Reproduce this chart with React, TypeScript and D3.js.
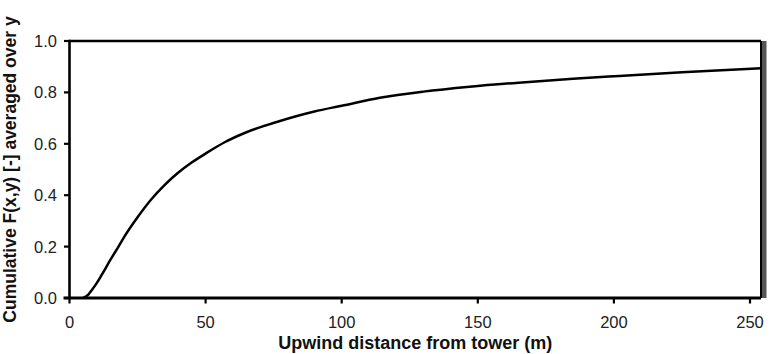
import React, { useEffect, useRef } from "react";
import * as d3 from "d3";

// Upwind distance from the tower (m) and cumulative footprint F(x,y) averaged over y
const distance = [5, 7, 8, 10, 12, 15, 18, 20, 25, 30, 35, 40, 45, 50, 57, 65, 77, 90, 100, 114, 130, 147, 165, 185, 202, 225, 254];
const cumulative = [0, 0.014, 0.028, 0.058, 0.093, 0.148, 0.2, 0.236, 0.314, 0.383, 0.44, 0.488, 0.528, 0.562, 0.606, 0.645, 0.688, 0.726, 0.748, 0.779, 0.803, 0.822, 0.838, 0.853, 0.864, 0.878, 0.894];

const xTicks = [0, 50, 100, 150, 200, 250];
const yTicks = [0, 0.2, 0.4, 0.6, 0.8, 1.0];

const xTitle = "Upwind distance from tower (m)";
const yTitle = "Cumulative F(x,y) [-] averaged over y";

const W = 770;
const H = 354;
const margin = { left: 69.5, right: 9, top: 41, bottom: 56 };

export default function App() {
  const ref = useRef<SVGSVGElement>(null);

  useEffect(() => {
    const svg = d3.select(ref.current);
    svg.selectAll("*").remove();

    const x0 = margin.left;
    const x1 = W - margin.right;
    const y0 = H - margin.bottom;
    const y1 = margin.top;

    const x = d3.scaleLinear().domain([0, 250]).range([x0, 750]);
    const y = d3.scaleLinear().domain([0, 1]).range([y0, y1]);

    const font = "'Liberation Sans', Arial, sans-serif";

    // shaded edge on the right side of the frame
    svg.append("rect")
      .attr("x", x1 + 1)
      .attr("y", y1)
      .attr("width", 4.5)
      .attr("height", y0 - y1)
      .attr("fill", "#555");

    // frame
    svg.append("line").attr("x1", x0).attr("x2", x1).attr("y1", y1).attr("y2", y1)
      .attr("stroke", "#000").attr("stroke-width", 2.5);
    svg.append("line").attr("x1", x1).attr("x2", x1).attr("y1", y1).attr("y2", y0)
      .attr("stroke", "#000").attr("stroke-width", 2);

    // curve
    const line = d3.line<number>()
      .x((_, i) => x(distance[i]))
      .y((d) => y(d))
      .curve(d3.curveMonotoneX);
    svg.append("path")
      .datum(cumulative)
      .attr("d", line)
      .attr("fill", "none")
      .attr("stroke", "#000")
      .attr("stroke-width", 2.5);

    // y axis
    svg.append("line").attr("x1", x0).attr("x2", x0).attr("y1", y1 - 1.2).attr("y2", y0 + 1)
      .attr("stroke", "#000").attr("stroke-width", 2.6);
    yTicks.forEach((t) => {
      svg.append("line").attr("x1", x0 - 5.5).attr("x2", x0).attr("y1", y(t)).attr("y2", y(t))
        .attr("stroke", "#000").attr("stroke-width", 2.2);
      svg.append("text")
        .attr("x", 57)
        .attr("y", y(t))
        .attr("dy", "0.36em")
        .attr("text-anchor", "end")
        .attr("font-family", font)
        .attr("font-size", 16.5)
        .attr("fill", "#222")
        .text(t.toFixed(1));
    });

    // x axis
    svg.append("line").attr("x1", x0 - 6).attr("x2", x1).attr("y1", y0).attr("y2", y0)
      .attr("stroke", "#000").attr("stroke-width", 2.8);
    xTicks.forEach((t) => {
      svg.append("line").attr("x1", x(t)).attr("x2", x(t)).attr("y1", y0).attr("y2", y0 + 5.5)
        .attr("stroke", "#000").attr("stroke-width", 2.2);
      svg.append("text")
        .attr("x", x(t))
        .attr("y", 328)
        .attr("text-anchor", "middle")
        .attr("font-family", font)
        .attr("font-size", 16.5)
        .attr("fill", "#222")
        .text(String(t));
    });

    // axis titles
    svg.append("text")
      .attr("x", (x0 + x1) / 2)
      .attr("y", 349)
      .attr("text-anchor", "middle")
      .attr("font-family", font)
      .attr("font-size", 18)
      .attr("font-weight", "bold")
      .attr("fill", "#111")
      .text(xTitle);

    svg.append("text")
      .attr("transform", `translate(16, ${(y0 + y1) / 2}) rotate(-90)`)
      .attr("text-anchor", "middle")
      .attr("font-family", font)
      .attr("font-size", 17.5)
      .attr("font-weight", "bold")
      .attr("fill", "#111")
      .text(yTitle);
  }, []);

  return (
    <svg
      ref={ref}
      width={W}
      height={H}
      style={{ position: "absolute", left: 0, top: 0, background: "#fff" }}
    />
  );
}
